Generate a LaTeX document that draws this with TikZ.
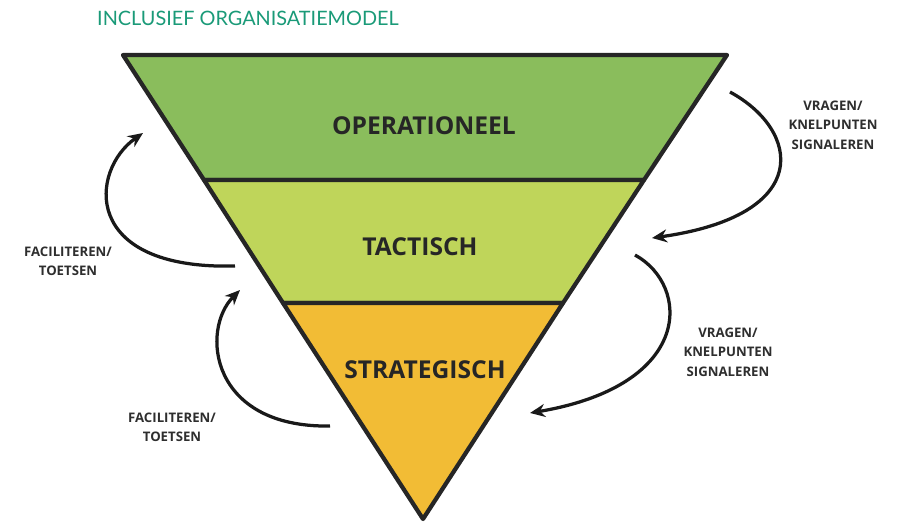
\documentclass[tikz,border=0pt]{standalone}
\usepackage{fontspec}
\setmainfont{Open Sans}
\newfontfamily\titlefont{Lato}
\usepackage{tikz}
\usetikzlibrary{calc,arrows.meta}
\definecolor{opgreen}{HTML}{8ABD5C}
\definecolor{tacgreen}{HTML}{BFD55A}
\definecolor{strorange}{HTML}{F2BC35}
\definecolor{titleteal}{HTML}{1A9A78}
\definecolor{labelgray}{HTML}{2E2E2E}
\tikzset{
  layer/.style={draw=black!85, line width=0.085cm, line join=round},
  bandlabel/.style={font=\fontsize{14}{16}\selectfont\bfseries, text=black!85},
  sidelabel/.style={font=\fontsize{7.5}{11}\selectfont\bfseries, text=labelgray, align=center},
  flow/.style={line width=0.065cm, -{Stealth[length=0.3cm,width=0.26cm]}, black!90}
}

\begin{document}
\begin{tikzpicture}[x=0.02cm,y=-0.02cm]
\useasboundingbox (0,0) rectangle (897,522);
\node [text=titleteal, font=\titlefont\fontsize{11.3}{13}\selectfont, anchor=west] (title) at (91,18) {INCLUSIEF ORGANISATIEMODEL};
% layers of the triangle
\filldraw [layer, fill=opgreen] (123,55) -- (727,55) -- (644,180) -- (204,180) -- cycle;
\filldraw [layer, fill=tacgreen] (204,180) -- (644,180) -- (563,303) -- (283,303) -- cycle;
\filldraw [layer, fill=strorange] (283,303) -- (563,303) -- (423,519) -- cycle;
\node [bandlabel] (op) at (424,126) {OPERATIONEEL};
\node [bandlabel] (tac) at (420,247) {TACTISCH};
\node [bandlabel] (str) at (425,370) {STRATEGISCH};
% arrow ends
\coordinate (r1a) at (730,92);
\coordinate (r1b) at (652,238);
\coordinate (r2a) at (635,255);
\coordinate (r2b) at (530,413);
\coordinate (l1a) at (235,266);
\coordinate (l1b) at (143,133);
\coordinate (l2a) at (330,426);
\coordinate (l2b) at (240,290);
\draw [flow] (r1a) .. controls (800,130) and (815,215) .. (r1b);
\draw [flow] (r2a) .. controls (690,285) and (695,385) .. (r2b);
\draw [flow] (l1a) .. controls (80,270) and (90,170) .. (l1b);
\draw [flow] (l2a) .. controls (210,428) and (200,330) .. (l2b);
\node [sidelabel] (vr1) at (833,125) {VRAGEN/\\KNELPUNTEN\\SIGNALEREN};
\node [sidelabel] (vr2) at (728,352) {VRAGEN/\\KNELPUNTEN\\SIGNALEREN};
\node [sidelabel] (fa1) at (68,261) {FACILITEREN/\\TOETSEN};
\node [sidelabel] (fa2) at (172,427) {FACILITEREN/\\TOETSEN};
\end{tikzpicture}
\end{document}
